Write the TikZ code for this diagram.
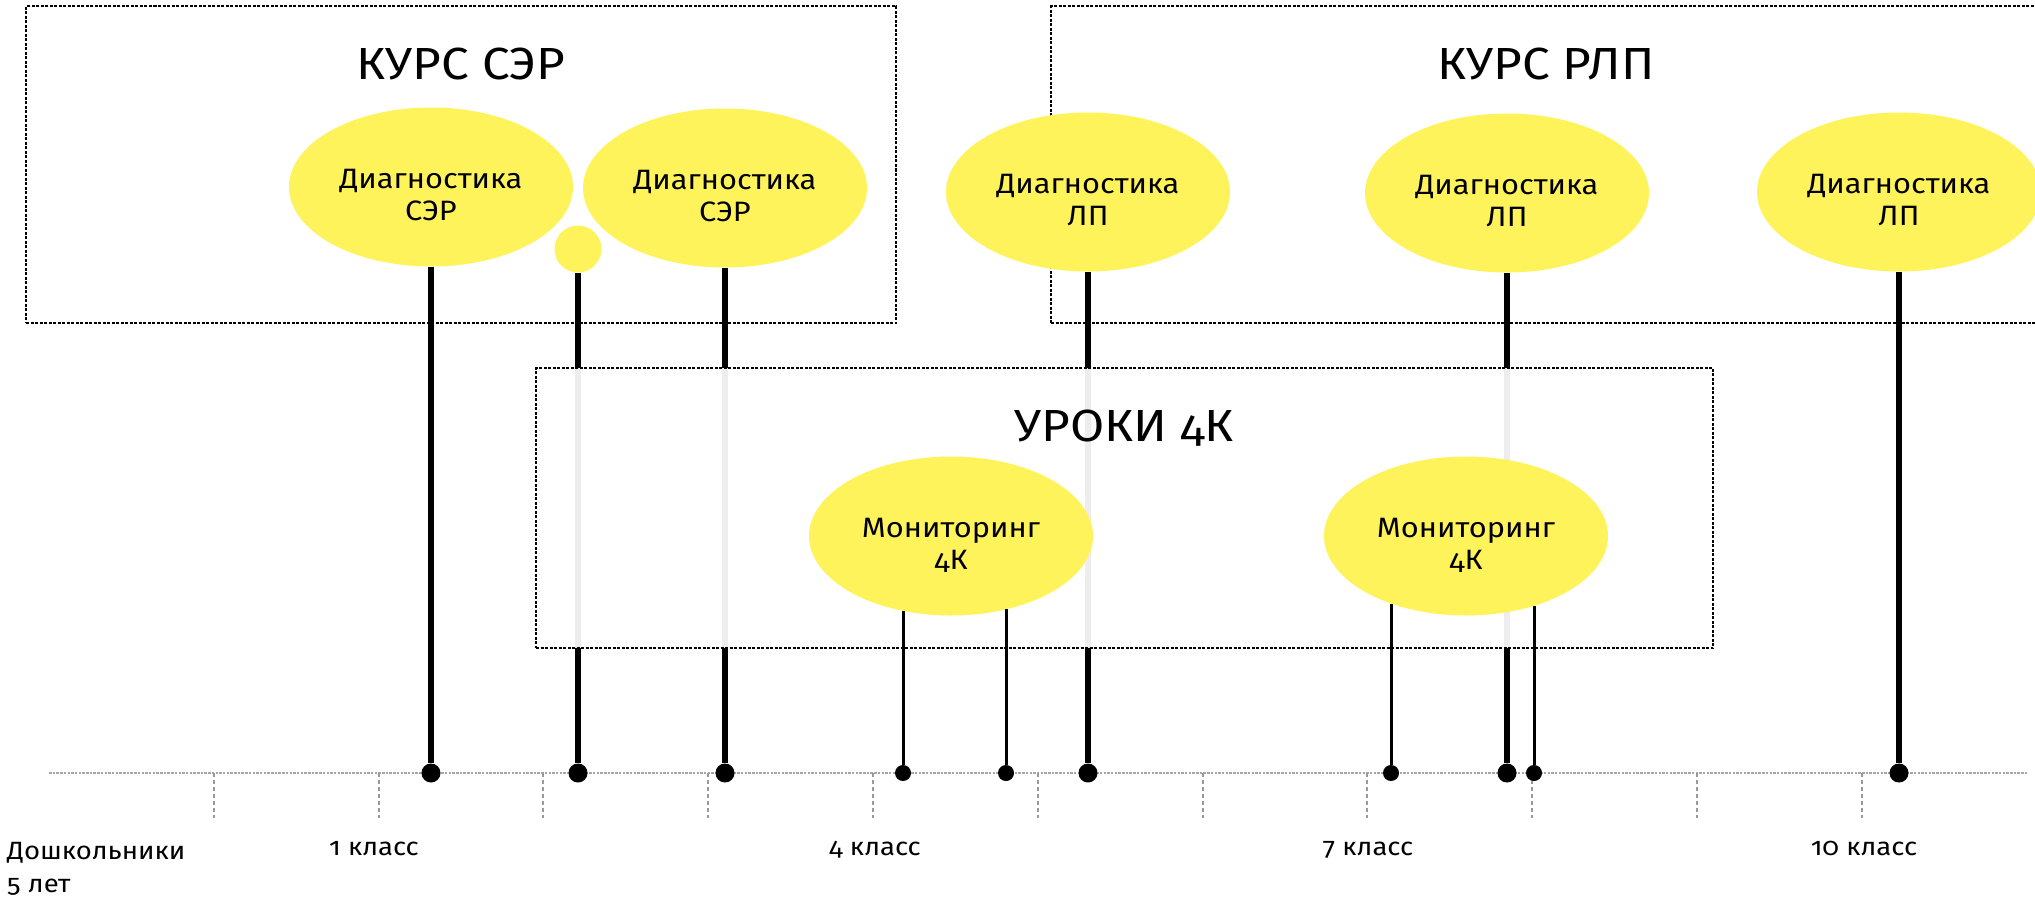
\documentclass[tikz,border=0pt]{standalone}
\usepackage{fontspec}
\setmainfont{Fira Sans}[Numbers=OldStyle, FakeStretch=1.1]
\usetikzlibrary{shapes.geometric}
\definecolor{lemon}{HTML}{FFF35C}
\newcommand\twolines[2]{\rule{0pt}{40pt}#1\\#2\rule[-6pt]{0pt}{6pt}}

\begin{document}
\begin{tikzpicture}
    [ x=1pt, y=-1pt,
        course/.style={rectangle, draw, line width=2pt, dash pattern=on 3pt off 1.5pt, inner sep=0pt},
        heading/.style={font=\fontsize{45}{50}\selectfont, anchor=base, inner sep=0pt},
        blob/.style={ellipse, fill=lemon, minimum width=284pt, minimum height=159pt, inner sep=0pt,
            align=center, font=\fontsize{28}{32}\selectfont},
        bud/.style={circle, fill=lemon, minimum size=47pt, inner sep=0pt},
        knob/.style={circle, fill=black, minimum size=19pt, inner sep=0pt},
        seed/.style={circle, fill=black, minimum size=16pt, inner sep=0pt},
        stalk/.style={line width=6.3pt},
        twig/.style={line width=3pt},
        axis/.style={line width=2.5pt, gray!70, dash pattern=on 2.5pt off 1.2pt},
        tick/.style={line width=2pt, gray!80, dash pattern=on 4pt off 3pt},
        stage/.style={font=\fontsize{25}{33}\selectfont, inner sep=0pt, anchor=base},
    ]

    \useasboundingbox (0,0) rectangle (2035,899);

    \coordinate (A) at (49,773);
    \coordinate (B) at (2027,773);
    \draw[axis] (A) -- (B);
    \foreach \k in {1,...,11}
        \draw[tick] ([xshift=164.8*\k]A) -- ++(0,45);

    \node
        [ course,
            minimum width=870pt,
            minimum height=316.5pt,
        ] (S) at (461,164.75) {};
    \node[heading] (ST) at ([yshift=-74.5pt]S.north) {КУРС СЭР};

    \node
        [ course,
            minimum width=990pt,
            minimum height=316.5pt,
        ] (R) at (1546,164.75) {};
    \node[heading] (RT) at ([yshift=-74.5pt]R.north) {КУРС РЛП};

    \node[blob] (S1) at (431,187) {\twolines{Диагностика}{СЭР}};
    \node[blob] (S2) at (725,188) {\twolines{Диагностика}{СЭР}};
    \node[bud] (S0) at (578,249) {};
    \node[blob] (R1) at (1088,192) {\twolines{Диагностика}{ЛП}};
    \node[blob] (R2) at (1507,193) {\twolines{Диагностика}{ЛП}};
    \node[blob] (R3) at (1899,192) {\twolines{Диагностика}{ЛП}};

    \foreach \n/\x in {S1/431, S0/578, S2/725, R1/1088, R2/1507, R3/1899}
    {
        \node[knob] (D\n) at (\x,773) {};
        \draw[stalk] (\n) -- (D\n);
    }

    \node
        [ course,
            fill=white,
            fill opacity=0.93,
            minimum width=1177pt,
            minimum height=280pt,
        ] (U) at (1124.5,508) {};
    \node[heading] (UT) at ([yshift=-74.5pt]U.north) {УРОКИ 4К};

    \node[blob] (U1) at (951,536) {\twolines{Мониторинг}{4К}};
    \node[blob] (U2) at (1466,536) {\twolines{Мониторинг}{4К}};

    \foreach \n/\x/\m/\a in {T1/903/U1/237, T2/1006/U1/307, T3/1391/U2/222, T4/1534/U2/314}
    {
        \node[seed] (\n) at (\x,773) {};
        \draw[twig] (\n) -- (\n |- \m.\a);
    }

    \node[stage, anchor=north west, align=left] (K0) at (7,842) {Дошкольники\\5 лет};
    \node[stage] (K1) at (374,855) {1 класс};
    \node[stage] (K2) at (875,855) {4 класс};
    \node[stage] (K3) at (1368,855) {7 класс};
    \node[stage] (K4) at (1864,855) {10 класс};

\end{tikzpicture}
\end{document}
